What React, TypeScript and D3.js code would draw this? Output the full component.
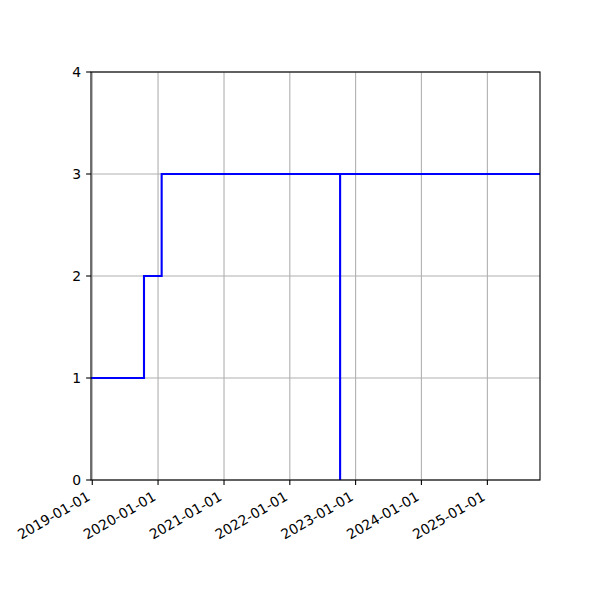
import React from "react";
import * as d3 from "d3";

const stepDates: string[] = ["2018-12-25", "2019-10-15", "2020-01-21", "2022-10-07", "2022-10-07", "2025-10-20"];
const stepValues: number[] = [1, 2, 3, 0, 3, 3];
const xTickLabels: string[] = ["2019-01-01", "2020-01-01", "2021-01-01", "2022-01-01", "2023-01-01", "2024-01-01", "2025-01-01"];
const yTicks: number[] = [0, 1, 2, 3, 4];

const W = 600, H = 600;
const L = 91, R = 540, T = 72, B = 480;
const FONT = "DejaVu Sans, sans-serif";
const FS = 13.9;

export default function App() {
  const parse = d3.utcParse("%Y-%m-%d");
  const dates = stepDates.map((d) => parse(d)!);
  const x = d3.scaleUtc().domain([dates[0], dates[dates.length - 1]]).range([L, R]);
  const y = d3.scaleLinear().domain([0, 4]).range([B, T]);
  const data = dates.map((d, i) => ({ d, v: stepValues[i] }));
  const line = d3
    .line<{ d: Date; v: number }>()
    .x((p) => x(p.d))
    .y((p) => y(p.v))
    .curve(d3.curveStepAfter);
  const xt = xTickLabels.map((s) => ({ s, px: x(parse(s)!) }));
  const tickLen = 4.9;
  const pad = 4.9;
  const h = 15.5;
  return (
    <div style={{ position: "absolute", left: 0, top: 0 }}>
      <svg width={W} height={H} style={{ display: "block", background: "#fff" }} fontFamily={FONT} fontSize={FS}>
        <g stroke="#b0b0b0" strokeWidth={1.1}>
          {xt.map((t) => (
            <line key={t.s} x1={t.px} x2={t.px} y1={T} y2={B} />
          ))}
          {yTicks.map((v) => (
            <line key={v} x1={L} x2={R} y1={y(v)} y2={y(v)} />
          ))}
        </g>
        <defs>
          <clipPath id="clip">
            <rect x={L} y={T} width={R - L} height={B - T} />
          </clipPath>
        </defs>
        <path d={line(data) || ""} fill="none" stroke="#0000ff" strokeWidth={2.1} clipPath="url(#clip)" />
        <rect x={L} y={T} width={R - L} height={B - T} fill="none" stroke="#000" strokeWidth={1.1} />
        <g stroke="#000" strokeWidth={1.1}>
          {xt.map((t) => (
            <line key={t.s} x1={t.px} x2={t.px} y1={B} y2={B + tickLen} />
          ))}
          {yTicks.map((v) => (
            <line key={v} x1={L} x2={L - tickLen} y1={y(v)} y2={y(v)} />
          ))}
        </g>
        {yTicks.map((v) => (
          <text key={v} x={L - tickLen - pad} y={y(v)} dy="0.35em" textAnchor="end" fill="#000">
            {v}
          </text>
        ))}
        {xt.map((t) => (
          <text
            key={t.s}
            transform={`translate(${t.px - 0.5 * h + 1},${B + tickLen + pad}) rotate(-30)`}
            textAnchor="end"
            dy="0.8em"
            fill="#000"
          >
            {t.s}
          </text>
        ))}
      </svg>
    </div>
  );
}
